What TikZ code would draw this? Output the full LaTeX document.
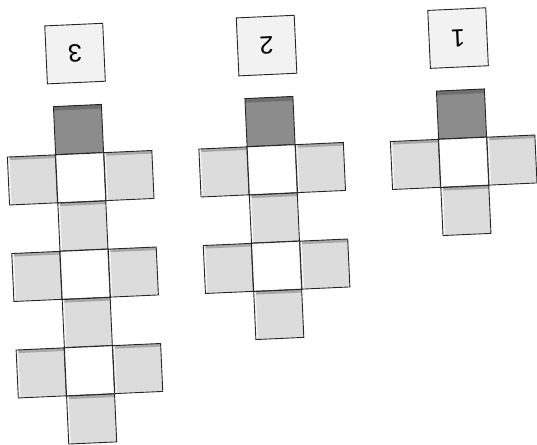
\documentclass[tikz,border=0pt]{standalone}
\usepackage{fontspec}
\setsansfont{Liberation Sans}
\usetikzlibrary{positioning}
\definecolor{cellGray}{HTML}{DCDCDC}
\definecolor{cellTop}{HTML}{A8A8A8}
\definecolor{darkCell}{HTML}{8C8C8C}
\definecolor{darkTop}{HTML}{6E6E6E}
\definecolor{tagFill}{HTML}{F2F2F2}

\begin{document}
\begin{tikzpicture}[x=1pt,y=1pt,font=\sffamily,
      cell/.style={draw=black!85,line width=0.9pt,minimum size=48pt,inner sep=0pt,outer sep=0pt},
      lightcell/.style={cell,fill=cellGray,path picture={
          \fill[cellTop] (path picture bounding box.north west) rectangle ([yshift=-3pt]path picture bounding box.north east);
          \fill[white] (path picture bounding box.south west) rectangle ([yshift=2.5pt]path picture bounding box.south east);
          \fill[white!70!cellGray] (path picture bounding box.south west) rectangle ([xshift=2pt]path picture bounding box.north west);}},
      darkcell/.style={cell,fill=darkCell,path picture={
          \fill[darkTop] (path picture bounding box.north west) rectangle ([yshift=-4pt]path picture bounding box.north east);}},
      whitecell/.style={cell,fill=white},
      tag/.style={draw=black!85,line width=0.9pt,fill=tagFill,minimum size=58pt,inner sep=0pt,
          font=\fontsize{25}{25}\selectfont\sffamily,rotate=180}]
    \useasboundingbox (0,0) rectangle (537,444);
    % one scope per pattern: number / centre of the dark cell / crosses
    \foreach \num/\cx/\cy/\k in {1/461.5/330/1,2/270/322.5/2,3/78.5/314.5/3}{
      \begin{scope}[shift={(\cx,\cy)},rotate=2.6,transform shape]
        \node[tag] (tag\num) at (0,76) {\num};
        \node[darkcell] (top\num) at (0,0) {};
        \foreach \i in {1,...,\k}{
          \pgfmathsetmacro{\ra}{-96.6*\i+48.3}
          \pgfmathsetmacro{\rb}{-96.6*\i}
          \node[lightcell] (left\num-\i) at (-48.3,\ra) {};
          \node[whitecell] (mid\num-\i) at (0,\ra) {};
          \node[lightcell] (right\num-\i) at (48.3,\ra) {};
          \node[lightcell] (low\num-\i) at (0,\rb) {};
        }
      \end{scope}
    }
\end{tikzpicture}
\end{document}
